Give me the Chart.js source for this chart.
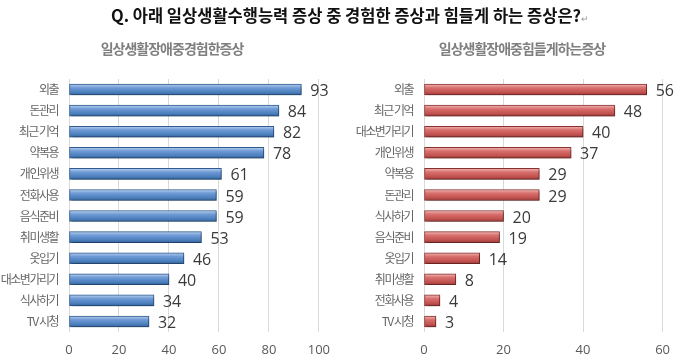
<!DOCTYPE html>
<html>
<head>
<meta charset="utf-8">
<script src="https://cdn.jsdelivr.net/npm/chart.js@4.4.1/dist/chart.umd.min.js"></script>
<style>
    body { margin: 0; background: #fff; }
    #wrap { position: relative; width: 680px; height: 363px; overflow: hidden; }
    .cv { position: absolute; top: 0; width: 340px; height: 363px; }
    #mainTitle {
        position: absolute; top: 3px; left: 0; width: 700px; text-align: center;
        font: bold 16.5px 'Noto Sans CJK KR', sans-serif; color: #111;
    }
    .sub {
        position: absolute; top: 38px; width: 340px; text-align: center;
        font: bold 14px 'Noto Sans CJK KR', sans-serif; color: #7f7f7f; letter-spacing: -1px;
    }
</style>
</head>
<body>
<div id="wrap">
    <canvas id="leftChart" class="cv" style="left:0"></canvas>
    <canvas id="rightChart" class="cv" style="left:340px"></canvas>
    <div id="mainTitle">Q. 아래 일상생활수행능력 증상 중 경험한 증상과 힘들게 하는 증상은?<span style="font-weight:normal;font-size:9px;color:#999">↵</span></div>
    <div class="sub" style="left:2px">일상생활장애중경험한증상</div>
    <div class="sub" style="left:352px">일상생활장애중힘들게하는증상</div>
</div>
<script>
// 경험한 증상 (왼쪽)
const expLabels = ['외출', '돈관리', '최근 기억', '약복용', '개인위생', '전화사용', '음식준비', '취미생활', '옷입기', '대소변가리기', '식사하기', 'TV 시청'];
const expValues = [93, 84, 82, 78, 61, 59, 59, 53, 46, 40, 34, 32];

// 힘들게 하는 증상 (오른쪽)
const hardLabels = ['외출', '최근 기억', '대소변가리기', '개인위생', '약복용', '돈관리', '식사하기', '음식준비', '옷입기', '취미생활', '전화사용', 'TV 시청'];
const hardValues = [56, 48, 40, 37, 29, 29, 20, 19, 14, 8, 4, 3];

const KR_FONT = "'Noto Sans CJK KR', 'Noto Sans', sans-serif";
const NUM_FONT = "'Open Sans', 'Noto Sans', sans-serif";

// 막대 입체감 (그라데이션)
function barGradient(stops) {
    return (c) => {
        const chart = c.chart;
        if (!chart.scales.y || c.dataIndex === undefined) return stops[1];
        const y = chart.scales.y.getPixelForValue(c.dataIndex);
        if (!isFinite(y)) return stops[1];
        const g = chart.ctx.createLinearGradient(0, y - 6, 0, y + 6);
        g.addColorStop(0, stops[0]);
        g.addColorStop(0.35, stops[1]);
        g.addColorStop(0.75, stops[2]);
        g.addColorStop(1, stops[3]);
        return g;
    };
}

const shadowPlugin = {
    id: 'shadow',
    beforeDatasetsDraw(chart) {
        const ctx = chart.ctx;
        ctx.save();
        ctx.shadowColor = 'rgba(0,0,0,0.35)';
        ctx.shadowOffsetX = 2;
        ctx.shadowOffsetY = 2;
        ctx.shadowBlur = 3;
    },
    afterDatasetsDraw(chart) {
        chart.ctx.restore();
    }
};

// 카테고리 글자 간격 좁게 (y축 라벨은 z:1 이라 데이터 다음에 그려짐)
const tightLabels = {
    id: 'tightLabels',
    afterDatasetsDraw(chart) { chart.ctx.letterSpacing = '-1.5px'; },
    afterDraw(chart) { chart.ctx.letterSpacing = '0px'; }
};

const valueLabels = {
    id: 'valueLabels',
    afterDraw(chart) {
        const ctx = chart.ctx;
        const meta = chart.getDatasetMeta(0);
        ctx.save();
        ctx.font = '16px ' + NUM_FONT;
        ctx.fillStyle = '#3a3a3a';
        ctx.textBaseline = 'middle';
        ctx.textAlign = 'left';
        meta.data.forEach((bar, i) => {
            ctx.fillText(chart.data.datasets[0].data[i], bar.x + 9, bar.y + 2);
        });
        ctx.restore();
    }
};

function makeChart(id, labels, values, max, stops, border, yWidth, padRight) {
    return new Chart(document.getElementById(id), {
        type: 'bar',
        data: {
            labels: labels,
            datasets: [{
                data: values,
                backgroundColor: barGradient(stops),
                borderColor: border,
                borderWidth: 1,
                borderSkipped: false,
                barThickness: 11
            }]
        },
        options: {
            indexAxis: 'y',
            responsive: false,
            animation: false,
            layout: { padding: { top: 79, right: padRight, bottom: 0, left: 0 } },
            plugins: { legend: { display: false }, tooltip: { enabled: false } },
            scales: {
                x: {
                    min: 0, max: max,
                    ticks: { stepSize: 20, color: '#595959', font: { size: 13, family: NUM_FONT }, padding: 10 },
                    grid: { color: '#d9d9d9', drawTicks: false },
                    border: { display: false },
                    afterFit(s) { s.height = 31; }
                },
                y: {
                    grid: { display: false, drawTicks: false },
                    border: { display: false },
                    ticks: { color: '#666666', font: { size: 12, family: KR_FONT }, padding: 11, z: 1 },
                    afterFit(s) { s.width = yWidth; }
                }
            }
        },
        plugins: [shadowPlugin, tightLabels, valueLabels]
    });
}

document.querySelectorAll('canvas').forEach(c => { c.width = 340; c.height = 363; });

makeChart('leftChart', expLabels, expValues, 100,
    ['#c6d9f1', '#6f9bd6', '#4a7ebb', '#2c5b94'], '#2f5c93', 69, 20);
makeChart('rightChart', hardLabels, hardValues, 60,
    ['#f2c4c3', '#d9706d', '#c0504d', '#943634'], '#8c3230', 84, 12);
</script>
</body>
</html>
